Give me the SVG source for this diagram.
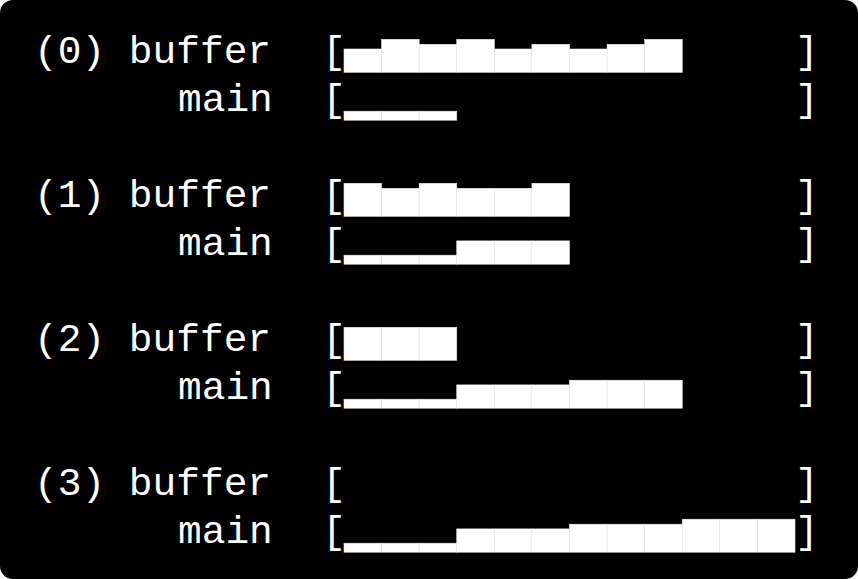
<svg xmlns="http://www.w3.org/2000/svg" width="858" height="579" viewBox="0 0 858 579">
<style>
.t{font-family:"Liberation Mono","DejaVu Sans Mono",monospace;font-size:39.5px;fill:#fff}
.b{fill:#fff;stroke:#ececec;stroke-width:0.6}
</style>
<defs>
<rect id="L1" class="b" width="37.58" height="9"/>
<rect id="L2" class="b" width="37.58" height="23.3"/>
<rect id="L3" class="b" width="37.58" height="28"/>
<rect id="L4" class="b" width="37.58" height="33"/>
</defs>
<rect x="0" y="0" width="858" height="579" fill="#fff"/>
<rect x="0" y="0" width="858" height="579" rx="13" fill="#000"/>

<g id="row0">
<text class="t" x="34" y="63">(0) buffer</text>
<text class="t" x="178" y="111">main</text>
</g>
<g id="row1">
<text class="t" x="34" y="207">(1) buffer</text>
<text class="t" x="178" y="255">main</text>
</g>
<g id="row2">
<text class="t" x="34" y="351">(2) buffer</text>
<text class="t" x="178" y="399">main</text>
</g>
<g id="row3">
<text class="t" x="34" y="495">(3) buffer</text>
<text class="t" x="178" y="543">main</text>
</g>

<g id="brackets">
<text class="t" x="322.2" y="63">[</text><text class="t" x="795" y="63">]</text>
<text class="t" x="322.2" y="111">[</text><text class="t" x="795" y="111">]</text>
<text class="t" x="322.2" y="207">[</text><text class="t" x="795" y="207">]</text>
<text class="t" x="322.2" y="255">[</text><text class="t" x="795" y="255">]</text>
<text class="t" x="322.2" y="351">[</text><text class="t" x="795" y="351">]</text>
<text class="t" x="322.2" y="399">[</text><text class="t" x="795" y="399">]</text>
<text class="t" x="322.2" y="495">[</text><text class="t" x="795" y="495">]</text>
<text class="t" x="322.2" y="543">[</text><text class="t" x="795" y="543">]</text>
</g>

<g id="bars0buffer">
<use href="#L2" x="344" y="49"/>
<use href="#L4" x="381.58" y="39.3"/>
<use href="#L3" x="419.17" y="44.3"/>
<use href="#L4" x="456.75" y="39.3"/>
<use href="#L2" x="494.33" y="49"/>
<use href="#L3" x="531.92" y="44.3"/>
<use href="#L2" x="569.5" y="49"/>
<use href="#L3" x="607.08" y="44.3"/>
<use href="#L4" x="644.67" y="39.3"/>
</g>
<g id="bars0main">
<use href="#L1" x="344" y="111.2"/>
<use href="#L1" x="381.58" y="111.2"/>
<use href="#L1" x="419.17" y="111.2"/>
</g>

<g id="bars1buffer">
<use href="#L4" x="344" y="183.3"/>
<use href="#L3" x="381.58" y="188.3"/>
<use href="#L4" x="419.17" y="183.3"/>
<use href="#L3" x="456.75" y="188.3"/>
<use href="#L3" x="494.33" y="188.3"/>
<use href="#L4" x="531.92" y="183.3"/>
</g>
<g id="bars1main">
<use href="#L1" x="344" y="255.2"/>
<use href="#L1" x="381.58" y="255.2"/>
<use href="#L1" x="419.17" y="255.2"/>
<use href="#L2" x="456.75" y="240.9"/>
<use href="#L2" x="494.33" y="240.9"/>
<use href="#L2" x="531.92" y="240.9"/>
</g>

<g id="bars2buffer">
<use href="#L4" x="344" y="327.3"/>
<use href="#L4" x="381.58" y="327.3"/>
<use href="#L4" x="419.17" y="327.3"/>
</g>
<g id="bars2main">
<use href="#L1" x="344" y="399.2"/>
<use href="#L1" x="381.58" y="399.2"/>
<use href="#L1" x="419.17" y="399.2"/>
<use href="#L2" x="456.75" y="384.9"/>
<use href="#L2" x="494.33" y="384.9"/>
<use href="#L2" x="531.92" y="384.9"/>
<use href="#L3" x="569.5" y="380.2"/>
<use href="#L3" x="607.08" y="380.2"/>
<use href="#L3" x="644.67" y="380.2"/>
</g>

<g id="bars3main">
<use href="#L1" x="344" y="543.2"/>
<use href="#L1" x="381.58" y="543.2"/>
<use href="#L1" x="419.17" y="543.2"/>
<use href="#L2" x="456.75" y="528.9"/>
<use href="#L2" x="494.33" y="528.9"/>
<use href="#L2" x="531.92" y="528.9"/>
<use href="#L3" x="569.5" y="524.2"/>
<use href="#L3" x="607.08" y="524.2"/>
<use href="#L3" x="644.67" y="524.2"/>
<use href="#L4" x="682.25" y="519.2"/>
<use href="#L4" x="719.83" y="519.2"/>
<use href="#L4" x="757.42" y="519.2"/>
</g>
</svg>
